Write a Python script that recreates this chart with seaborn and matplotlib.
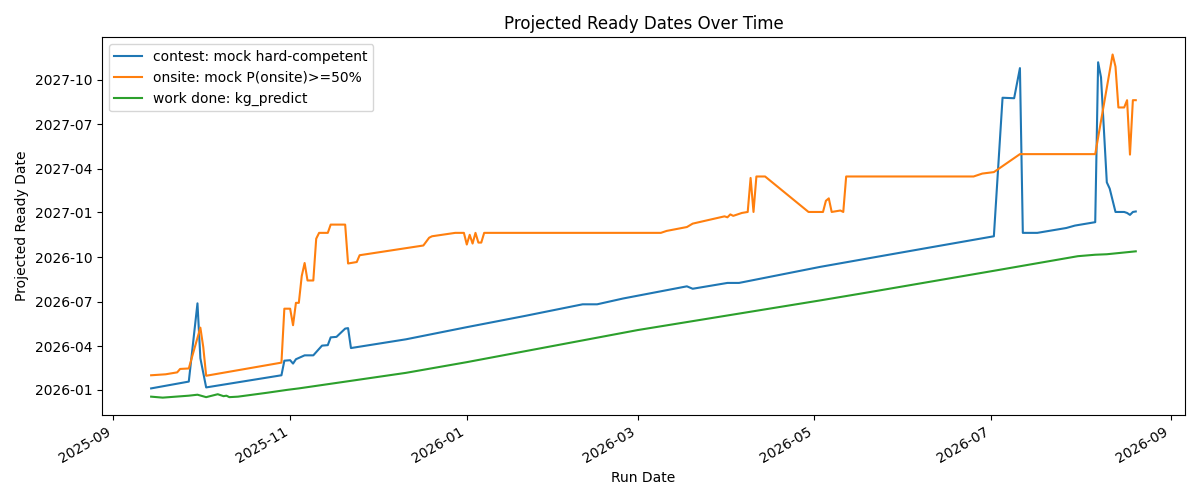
import matplotlib
matplotlib.use("Agg")
import matplotlib.pyplot as plt
import seaborn as sns
import pandas as pd

# run dates / projected ready dates, one pair of lists per series
contest_run = [
    "2025-09-14", "2025-09-27", "2025-09-30", "2025-10-01", "2025-10-03",
    "2025-10-29", "2025-10-30", "2025-11-01", "2025-11-02", "2025-11-03",
    "2025-11-06", "2025-11-09", "2025-11-12", "2025-11-14", "2025-11-15",
    "2025-11-17", "2025-11-20", "2025-11-21", "2025-11-22", "2025-12-11",
    "2026-01-01", "2026-01-21", "2026-02-10", "2026-02-15", "2026-02-24",
    "2026-03-18", "2026-03-20", "2026-04-01", "2026-04-05", "2026-05-03",
    "2026-05-21", "2026-06-10", "2026-07-02", "2026-07-05", "2026-07-09",
    "2026-07-11", "2026-07-12", "2026-07-17", "2026-07-27", "2026-07-30",
    "2026-08-06", "2026-08-07", "2026-08-08", "2026-08-10", "2026-08-11",
    "2026-08-13", "2026-08-16", "2026-08-17", "2026-08-18", "2026-08-19",
    "2026-08-20",
]
contest_ready = [
    "2026-01-04", "2026-01-18", "2026-06-28", "2026-03-07", "2026-01-06",
    "2026-01-31", "2026-03-02", "2026-03-03", "2026-02-24", "2026-03-05",
    "2026-03-13", "2026-03-13", "2026-04-02", "2026-04-03", "2026-04-19",
    "2026-04-20", "2026-05-07", "2026-05-08", "2026-03-28", "2026-04-15",
    "2026-05-10", "2026-06-02", "2026-06-26", "2026-06-26", "2026-07-08",
    "2026-08-02", "2026-07-28", "2026-08-09", "2026-08-09", "2026-09-11",
    "2026-09-30", "2026-10-21", "2026-11-13", "2027-08-25", "2027-08-24",
    "2027-10-25", "2026-11-20", "2026-11-20", "2026-11-30", "2026-12-05",
    "2026-12-12", "2027-11-06", "2027-10-06", "2027-03-04", "2027-02-19",
    "2027-01-02", "2027-01-02", "2026-12-31", "2026-12-27", "2027-01-02",
    "2027-01-03",
]

onsite_run = [
    "2025-09-14", "2025-09-19", "2025-09-23", "2025-09-24", "2025-09-27",
    "2025-10-01", "2025-10-02", "2025-10-03", "2025-10-29", "2025-10-30",
    "2025-11-01", "2025-11-02", "2025-11-03", "2025-11-04", "2025-11-05",
    "2025-11-06", "2025-11-07", "2025-11-09", "2025-11-10", "2025-11-11",
    "2025-11-14", "2025-11-15", "2025-11-20", "2025-11-21", "2025-11-24",
    "2025-11-25", "2025-12-17", "2025-12-19", "2025-12-20", "2025-12-28",
    "2025-12-31", "2026-01-01", "2026-01-02", "2026-01-03", "2026-01-04",
    "2026-01-05", "2026-01-06", "2026-01-07", "2026-03-09", "2026-03-11",
    "2026-03-18", "2026-03-20", "2026-03-31", "2026-04-01", "2026-04-02",
    "2026-04-03", "2026-04-06", "2026-04-08", "2026-04-09", "2026-04-10",
    "2026-04-11", "2026-04-14", "2026-04-29", "2026-05-04", "2026-05-05",
    "2026-05-06", "2026-05-07", "2026-05-10", "2026-05-11", "2026-05-12",
    "2026-06-25", "2026-06-28", "2026-07-02", "2026-07-11", "2026-08-06",
    "2026-08-12", "2026-08-13", "2026-08-14", "2026-08-16", "2026-08-17",
    "2026-08-18", "2026-08-19", "2026-08-20",
]
onsite_ready = [
    "2026-01-31", "2026-02-02", "2026-02-06", "2026-02-13", "2026-02-14",
    "2026-05-09", "2026-03-30", "2026-01-30", "2026-02-26", "2026-06-17",
    "2026-06-17", "2026-05-14", "2026-06-29", "2026-06-29", "2026-08-23",
    "2026-09-19", "2026-08-14", "2026-08-14", "2026-11-08", "2026-11-20",
    "2026-11-20", "2026-12-07", "2026-12-07", "2026-09-18", "2026-09-21",
    "2026-10-05", "2026-10-25", "2026-11-10", "2026-11-13", "2026-11-20",
    "2026-11-20", "2026-10-27", "2026-11-16", "2026-10-29", "2026-11-20",
    "2026-10-31", "2026-10-31", "2026-11-20", "2026-11-20", "2026-11-24",
    "2026-12-02", "2026-12-09", "2026-12-24", "2026-12-22", "2026-12-28",
    "2026-12-25", "2026-12-31", "2027-01-02", "2027-03-13", "2027-01-02",
    "2027-03-16", "2027-03-16", "2027-01-02", "2027-01-02", "2027-01-25",
    "2027-01-30", "2027-01-02", "2027-01-05", "2027-01-02", "2027-03-16",
    "2027-03-16", "2027-03-22", "2027-03-25", "2027-05-01", "2027-05-01",
    "2027-11-22", "2027-10-28", "2027-08-05", "2027-08-05", "2027-08-20",
    "2027-04-30", "2027-08-20", "2027-08-20",
]

work_run = [
    "2025-09-14", "2025-09-18", "2025-09-27", "2025-09-30", "2025-10-03",
    "2025-10-05", "2025-10-07", "2025-10-09", "2025-10-10", "2025-10-11",
    "2025-10-14", "2025-10-24", "2025-10-31", "2025-11-04", "2025-12-11",
    "2026-01-01", "2026-03-01", "2026-05-03", "2026-05-20", "2026-07-03",
    "2026-07-31", "2026-08-06", "2026-08-10", "2026-08-20",
]
work_ready = [
    "2025-12-18", "2025-12-16", "2025-12-20", "2025-12-22", "2025-12-17",
    "2025-12-20", "2025-12-23", "2025-12-19", "2025-12-20", "2025-12-17",
    "2025-12-18", "2025-12-26", "2026-01-01", "2026-01-04", "2026-02-05",
    "2026-02-27", "2026-05-04", "2026-07-04", "2026-07-21", "2026-09-04",
    "2026-10-03", "2026-10-06", "2026-10-07", "2026-10-13",
]

series_names = ["contest: mock hard-competent", "onsite: mock P(onsite)>=50%", "work done: kg_predict"]
colors = ["#1f77b4", "#ff7f0e", "#2ca02c"]

frames = []
for name, run, ready in zip(series_names,
                            [contest_run, onsite_run, work_run],
                            [contest_ready, onsite_ready, work_ready]):
    frames.append(pd.DataFrame({
        "run_date": pd.to_datetime(run),
        "ready_date": pd.to_datetime(ready),
        "series": name,
    }))
df = pd.concat(frames, ignore_index=True)

fig, ax = plt.subplots(figsize=(12, 5), dpi=100)
sns.lineplot(data=df, x="run_date", y="ready_date", hue="series",
             hue_order=series_names, palette=colors, estimator=None,
             linewidth=1.5, ax=ax)

sns.move_legend(ax, "upper left", title=None)
ax.set_title("Projected Ready Dates Over Time")
ax.set_xlabel("Run Date")
ax.set_ylabel("Projected Ready Date")
fig.autofmt_xdate()
plt.tight_layout()
plt.savefig("out.png")
